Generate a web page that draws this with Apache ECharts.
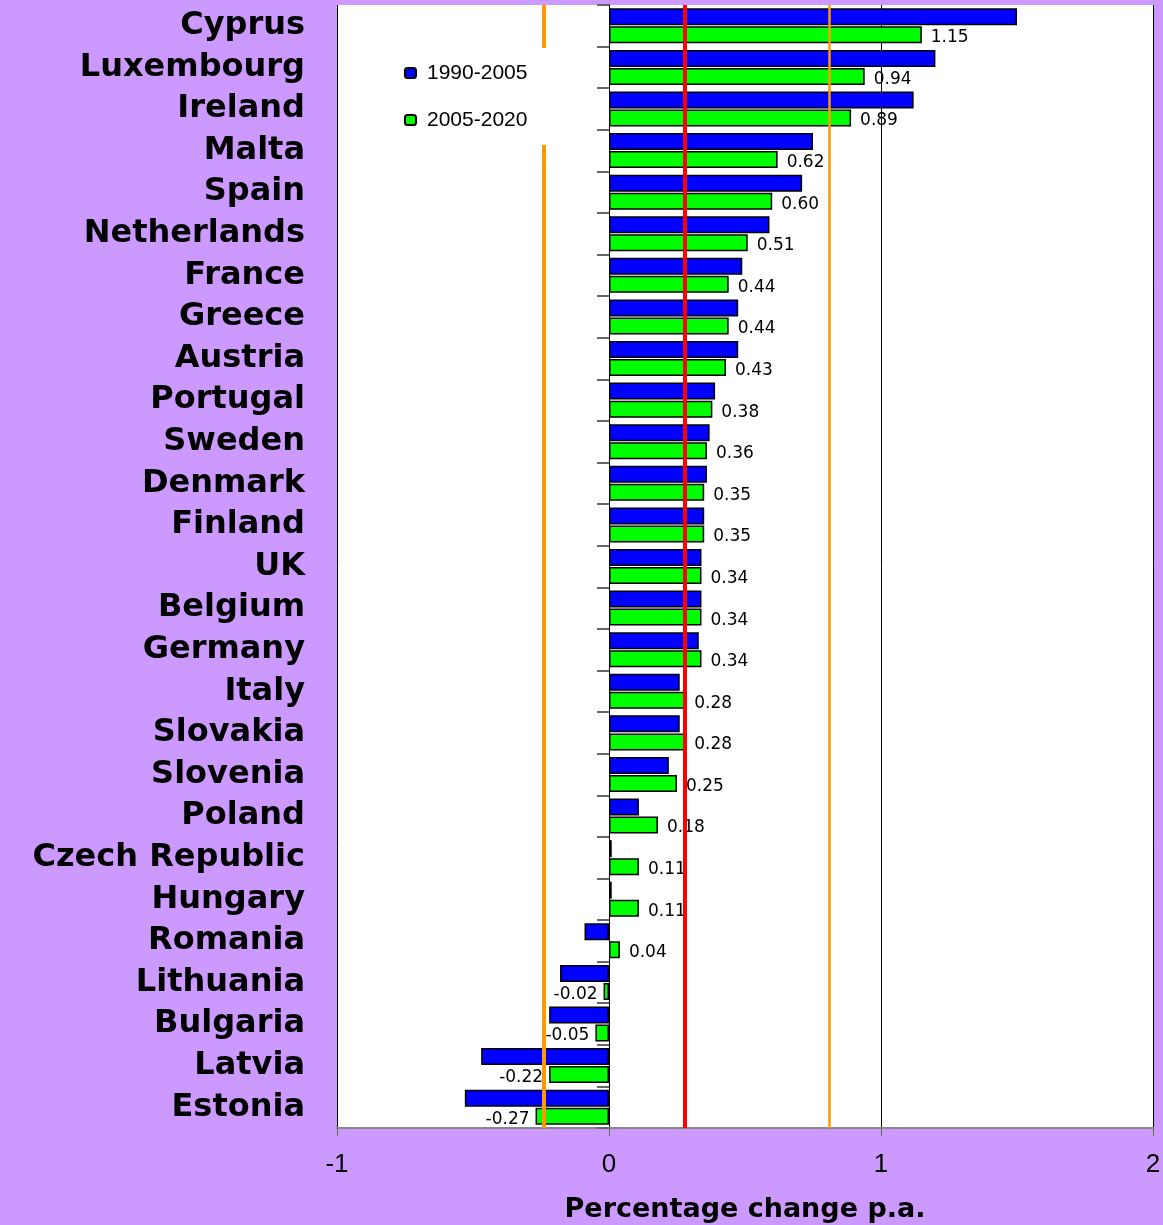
<!DOCTYPE html>
<html>
<head>
<meta charset="utf-8">
<script src="https://cdn.jsdelivr.net/npm/echarts@6/dist/echarts.min.js"></script>
<style>
html,body{margin:0;padding:0;background:#CC99FF;}
#chart{width:1163px;height:1225px;}
</style>
</head>
<body>
<div id="chart"></div>
<script>
const countries = ["Cyprus","Luxembourg","Ireland","Malta","Spain","Netherlands","France","Greece","Austria","Portugal","Sweden","Denmark","Finland","UK","Belgium","Germany","Italy","Slovakia","Slovenia","Poland","Czech Republic","Hungary","Romania","Lithuania","Bulgaria","Latvia","Estonia"];
const series1990_2005 = [1.50,1.20,1.12,0.75,0.71,0.59,0.49,0.475,0.475,0.39,0.37,0.36,0.35,0.34,0.34,0.33,0.26,0.26,0.22,0.11,0.01,0.01,-0.09,-0.18,-0.22,-0.47,-0.53];
const series2005_2020 = [1.15,0.94,0.89,0.62,0.60,0.51,0.44,0.44,0.43,0.38,0.36,0.35,0.35,0.34,0.34,0.34,0.28,0.28,0.25,0.18,0.11,0.11,0.04,-0.02,-0.05,-0.22,-0.27];
const seriesNames = ["1990-2005","2005-2020"];
const xTicks = {min:-1, max:2, interval:1};
const refLines = [-0.245, 0.283, 0.81];

const chart = echarts.init(document.getElementById('chart'), null, {renderer:'canvas'});

const greenData = series2005_2020.map(v => ({
  value: v,
  label: { position: v < 0 ? 'left' : 'right', distance: v < 0 ? 6 : 9 }
}));

chart.setOption({
  backgroundColor: '#CC99FF',
  animation: false,
  grid: { left: 337, right: 10, top: 5, bottom: 97, show: true, backgroundColor: '#ffffff', borderWidth: 0, outerBoundsMode: 'none', containLabel: false },
  legend: {
    orient: 'vertical',
    left: 392, top: 48,
    z: 20,
    backgroundColor: '#ffffff',
    padding: [13, 24, 13, 12],
    itemGap: 23,
    itemWidth: 11, itemHeight: 10,
    textStyle: { fontFamily: 'Liberation Sans', fontSize: 21, color: '#000', lineHeight: 24, padding: [0, 0, 0, 6] },
    data: seriesNames
  },
  xAxis: {
    type: 'value',
    min: xTicks.min, max: xTicks.max, interval: xTicks.interval,
    axisLine: { show: true, onZero: false, lineStyle: { color: '#888', width: 2 } },
    axisTick: { show: true, length: 8, lineStyle: { color: '#666', width: 1 } },
    axisLabel: { fontFamily: 'Liberation Sans', fontSize: 26, color: '#000', margin: 24 },
    splitLine: { show: true, lineStyle: { color: '#000', width: 1 } },
    name: 'Percentage change p.a.',
    nameLocation: 'middle',
    nameGap: 68,
    nameTextStyle: { fontFamily: 'DejaVu Sans', fontWeight: 'bold', fontSize: 27, color: '#000' }
  },
  yAxis: [
    {
      type: 'category',
      data: countries,
      inverse: true,
      position: 'left',
      axisLine: { show: false, onZero: false },
      axisTick: { show: false },
      axisLabel: { interval: 0, fontFamily: 'DejaVu Sans', fontWeight: 'bold', fontSize: 32, color: '#000', margin: 32, padding: [3, 0, 0, 0] }
    },
    {
      type: 'category',
      data: countries,
      inverse: true,
      position: 'left',
      axisLine: { show: true, onZero: true, lineStyle: { color: '#000', width: 1 } },
      axisTick: { show: true, interval: 0, inside: false, length: 12, lineStyle: { color: '#666', width: 2 } },
      axisLabel: { show: false }
    }
  ],
  series: [
    {
      name: seriesNames[0],
      type: 'bar',
      yAxisIndex: 0,
      data: series1990_2005,
      barWidth: 17,
      barGap: '6%',
      itemStyle: { color: '#0000FF', borderColor: '#000', borderWidth: 1.5 }
    },
    {
      name: seriesNames[1],
      type: 'bar',
      yAxisIndex: 0,
      data: greenData,
      barWidth: 17,
      barGap: '6%',
      itemStyle: { color: '#00FF00', borderColor: '#000', borderWidth: 1.5 },
      label: {
        show: true,
        fontFamily: 'DejaVu Sans',
        fontSize: 17,
        color: '#000',
        offset: [0, 3],
        formatter: p => p.value.toFixed(2)
      },
      markLine: {
        silent: true,
        symbol: 'none',
        label: { show: false },
        data: [
          { xAxis: refLines[0], lineStyle: { color: '#FF9900', width: 4, type: 'solid' } },
          { xAxis: refLines[1], lineStyle: { color: '#FF0000', width: 4, type: 'solid' } },
          { xAxis: refLines[2], lineStyle: { color: '#FF9900', width: 2.5, type: 'solid' } }
        ]
      }
    }
  ]
});
</script>
</body>
</html>
